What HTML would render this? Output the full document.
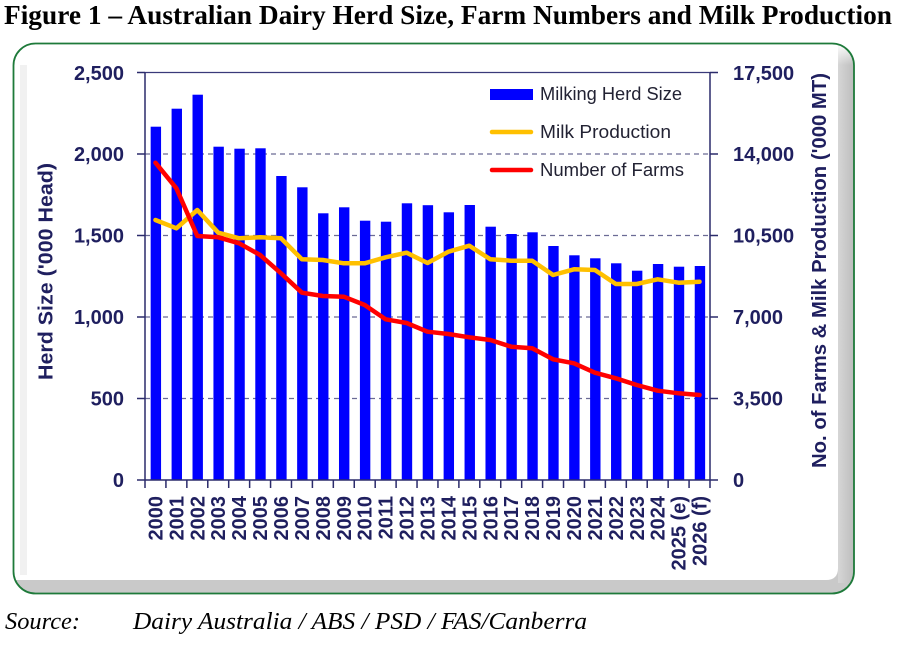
<!DOCTYPE html>
<html><head><meta charset="utf-8"><style>
html,body{margin:0;padding:0;background:#fff;}
svg{display:block;}
</style></head><body>
<svg width="903" height="648" viewBox="0 0 903 648" xmlns="http://www.w3.org/2000/svg">
<defs>
<clipPath id="frame"><rect x="13.5" y="43.5" width="840.5" height="550" rx="22" ry="22"/></clipPath>
<linearGradient id="rg" x1="0" y1="0" x2="1" y2="0"><stop offset="0" stop-color="#d6d6d6"/><stop offset="1" stop-color="#bdbdbd"/></linearGradient>
<linearGradient id="tg" x1="0" y1="0" x2="0" y2="1"><stop offset="0" stop-color="#ffffff"/><stop offset="1" stop-color="#ffffff" stop-opacity="0"/></linearGradient>
</defs>
<rect width="903" height="648" fill="#fff"/>
<text x="4" y="24" font-family="Liberation Serif, serif" font-weight="bold" font-size="27" fill="#000" textLength="888" lengthAdjust="spacingAndGlyphs">Figure 1 – Australian Dairy Herd Size, Farm Numbers and Milk Production</text>

<g clip-path="url(#frame)">
<rect x="13" y="43" width="842" height="552" fill="#c9c9c9"/>
<rect x="838" y="43" width="16" height="540" fill="url(#rg)"/>
<rect x="836" y="43" width="18" height="22" fill="url(#tg)"/>
<path d="M13,43 H838 V568 Q838,580 826,580 H13 Z" fill="#fff"/>
<rect x="20" y="65" width="7" height="510" fill="#f1f1f1"/>
</g>
<rect x="13.5" y="43.5" width="840.5" height="550" rx="22" ry="22" fill="none" stroke="#1e7a3a" stroke-width="1.8"/>

<!-- gridlines -->
<g stroke="#6b6b95" stroke-width="1.2" stroke-dasharray="5,4">
<line x1="145" y1="398.5" x2="710" y2="398.5"/>
<line x1="145" y1="317" x2="710" y2="317"/>
<line x1="145" y1="235.5" x2="710" y2="235.5"/>
<line x1="145" y1="154" x2="710" y2="154"/>
</g>
<line x1="145" y1="72.5" x2="710" y2="72.5" stroke="#3a3a7a" stroke-width="1.2"/>

<!-- bars -->
<g fill="#0000ff">
<rect x="150.66" y="126.7" width="10.4" height="353.3"/>
<rect x="171.59" y="108.7" width="10.4" height="371.3"/>
<rect x="192.51" y="94.7" width="10.4" height="385.3"/>
<rect x="213.44" y="146.7" width="10.4" height="333.3"/>
<rect x="234.36" y="148.7" width="10.4" height="331.3"/>
<rect x="255.29" y="148.3" width="10.4" height="331.7"/>
<rect x="276.22" y="176" width="10.4" height="304"/>
<rect x="297.14" y="187.3" width="10.4" height="292.7"/>
<rect x="318.07" y="213.3" width="10.4" height="266.7"/>
<rect x="338.99" y="207.3" width="10.4" height="272.7"/>
<rect x="359.92" y="220.7" width="10.4" height="259.3"/>
<rect x="380.85" y="221.7" width="10.4" height="258.3"/>
<rect x="401.77" y="203.3" width="10.4" height="276.7"/>
<rect x="422.70" y="205.2" width="10.4" height="274.8"/>
<rect x="443.62" y="212.3" width="10.4" height="267.7"/>
<rect x="464.55" y="205" width="10.4" height="275"/>
<rect x="485.48" y="226.7" width="10.4" height="253.3"/>
<rect x="506.40" y="234" width="10.4" height="246"/>
<rect x="527.33" y="232.3" width="10.4" height="247.7"/>
<rect x="548.25" y="246" width="10.4" height="234"/>
<rect x="569.18" y="255.3" width="10.4" height="224.7"/>
<rect x="590.11" y="258.3" width="10.4" height="221.7"/>
<rect x="611.03" y="263.3" width="10.4" height="216.7"/>
<rect x="631.96" y="270.7" width="10.4" height="209.3"/>
<rect x="652.88" y="264" width="10.4" height="216"/>
<rect x="673.81" y="266.7" width="10.4" height="213.3"/>
<rect x="694.74" y="266" width="10.4" height="214"/>
</g>

<!-- axes -->
<g stroke="#2b2b6b" stroke-width="1.5" fill="none">
<line x1="145" y1="72.5" x2="145" y2="480"/>
<line x1="710" y1="72.5" x2="710" y2="480"/>
<line x1="137" y1="480" x2="718" y2="480"/>
<path d="M137,72.5 H145 M137,154 H145 M137,235.5 H145 M137,317 H145 M137,398.5 H145 M710,72.5 H718 M710,154 H718 M710,235.5 H718 M710,317 H718 M710,398.5 H718"/>
<path d="M145,480 v8 M165.93,480 v8 M186.85,480 v8 M207.78,480 v8 M228.70,480 v8 M249.63,480 v8 M270.56,480 v8 M291.48,480 v8 M312.41,480 v8 M333.33,480 v8 M354.26,480 v8 M375.19,480 v8 M396.11,480 v8 M417.04,480 v8 M437.96,480 v8 M458.89,480 v8 M479.81,480 v8 M500.74,480 v8 M521.67,480 v8 M542.59,480 v8 M563.52,480 v8 M584.44,480 v8 M605.37,480 v8 M626.30,480 v8 M647.22,480 v8 M668.15,480 v8 M689.07,480 v8 M710,480 v8"/>
</g>

<!-- lines -->
<polyline fill="none" stroke="#ffc000" stroke-width="4.5" stroke-linejoin="round" stroke-linecap="round" points="155.46,220 176.39,228.3 197.31,210 218.24,232.7 239.16,238.3 260.09,237.3 281.02,238.3 301.94,259.3 322.87,260 343.79,263.3 364.72,263.3 385.65,257.3 406.57,252.7 427.5,263 448.42,251.7 469.35,245.7 490.28,259.3 511.2,260.7 532.13,260.7 553.05,275 573.98,269.3 594.91,270 615.83,284 636.76,284 657.68,279.3 678.61,282.7 699.54,281.7"/>
<polyline fill="none" stroke="#ff0000" stroke-width="4.5" stroke-linejoin="round" stroke-linecap="round" points="155.46,162.7 176.39,188.3 197.31,236 218.24,237.3 239.16,243.3 260.09,255 281.02,273.3 301.94,292.7 322.87,296 343.79,296.7 364.72,305 385.65,319.3 406.57,323 427.5,331.7 448.42,334 469.35,337.3 490.28,340 511.2,346.7 532.13,348.3 553.05,359.3 573.98,363.3 594.91,372.7 615.83,378.3 636.76,385 657.68,390.7 678.61,393.3 699.54,395"/>

<!-- left labels -->
<g font-family="Liberation Sans, sans-serif" font-weight="bold" font-size="20" fill="#1f1f5f" text-anchor="end">
<text x="124" y="80">2,500</text>
<text x="124" y="161">2,000</text>
<text x="124" y="242.5">1,500</text>
<text x="124" y="324">1,000</text>
<text x="124" y="405.5">500</text>
<text x="124" y="487">0</text>
</g>
<!-- right labels -->
<g font-family="Liberation Sans, sans-serif" font-weight="bold" font-size="20" fill="#1f1f5f" text-anchor="start">
<text x="733" y="80">17,500</text>
<text x="733" y="161">14,000</text>
<text x="733" y="242.5">10,500</text>
<text x="733" y="324">7,000</text>
<text x="733" y="405.5">3,500</text>
<text x="733" y="487">0</text>
</g>

<!-- axis titles -->
<text transform="translate(52.5,271.5) rotate(-90)" text-anchor="middle" font-family="Liberation Sans, sans-serif" font-weight="bold" font-size="20" fill="#1f1f5f" textLength="217" lengthAdjust="spacingAndGlyphs">Herd Size ('000 Head)</text>
<text transform="translate(825.8,270.5) rotate(-90)" text-anchor="middle" font-family="Liberation Sans, sans-serif" font-weight="bold" font-size="20" fill="#1f1f5f" textLength="395" lengthAdjust="spacingAndGlyphs">No. of Farms &amp; Milk Production ('000 MT)</text>

<!-- x labels -->
<g font-family="Liberation Sans, sans-serif" font-weight="bold" font-size="20" fill="#1f1f5f" text-anchor="end">
<text transform="translate(162.46,496) rotate(-90)">2000</text>
<text transform="translate(183.39,496) rotate(-90)">2001</text>
<text transform="translate(204.31,496) rotate(-90)">2002</text>
<text transform="translate(225.24,496) rotate(-90)">2003</text>
<text transform="translate(246.16,496) rotate(-90)">2004</text>
<text transform="translate(267.09,496) rotate(-90)">2005</text>
<text transform="translate(288.02,496) rotate(-90)">2006</text>
<text transform="translate(308.94,496) rotate(-90)">2007</text>
<text transform="translate(329.87,496) rotate(-90)">2008</text>
<text transform="translate(350.79,496) rotate(-90)">2009</text>
<text transform="translate(371.72,496) rotate(-90)">2010</text>
<text transform="translate(392.65,496) rotate(-90)">2011</text>
<text transform="translate(413.57,496) rotate(-90)">2012</text>
<text transform="translate(434.5,496) rotate(-90)">2013</text>
<text transform="translate(455.42,496) rotate(-90)">2014</text>
<text transform="translate(476.35,496) rotate(-90)">2015</text>
<text transform="translate(497.28,496) rotate(-90)">2016</text>
<text transform="translate(518.2,496) rotate(-90)">2017</text>
<text transform="translate(539.13,496) rotate(-90)">2018</text>
<text transform="translate(560.05,496) rotate(-90)">2019</text>
<text transform="translate(580.98,496) rotate(-90)">2020</text>
<text transform="translate(601.91,496) rotate(-90)">2021</text>
<text transform="translate(622.83,496) rotate(-90)">2022</text>
<text transform="translate(643.76,496) rotate(-90)">2023</text>
<text transform="translate(664.68,496) rotate(-90)">2024</text>
<text transform="translate(685.61,496) rotate(-90)">2025 (e)</text>
<text transform="translate(706.54,496) rotate(-90)">2026 (f)</text>
</g>

<!-- legend -->
<rect x="490" y="89" width="43" height="11" fill="#0000ff"/>
<line x1="492" y1="132" x2="531" y2="132" stroke="#ffc000" stroke-width="4.5" stroke-linecap="round"/>
<line x1="492" y1="170" x2="531" y2="170" stroke="#ff0000" stroke-width="4.5" stroke-linecap="round"/>
<g font-family="Liberation Sans, sans-serif" font-size="18" fill="#222233">
<text x="540" y="100" textLength="142" lengthAdjust="spacingAndGlyphs">Milking Herd Size</text>
<text x="540" y="138" textLength="131" lengthAdjust="spacingAndGlyphs">Milk Production</text>
<text x="540" y="176" textLength="144" lengthAdjust="spacingAndGlyphs">Number of Farms</text>
</g>

<!-- source -->
<g font-family="Liberation Serif, serif" font-style="italic" font-size="24" fill="#000">
<text x="5" y="629" textLength="75" lengthAdjust="spacingAndGlyphs">Source:</text>
<text x="133" y="629" textLength="454" lengthAdjust="spacingAndGlyphs">Dairy Australia / ABS / PSD / FAS/Canberra</text>
</g>
</svg>
</body></html>
